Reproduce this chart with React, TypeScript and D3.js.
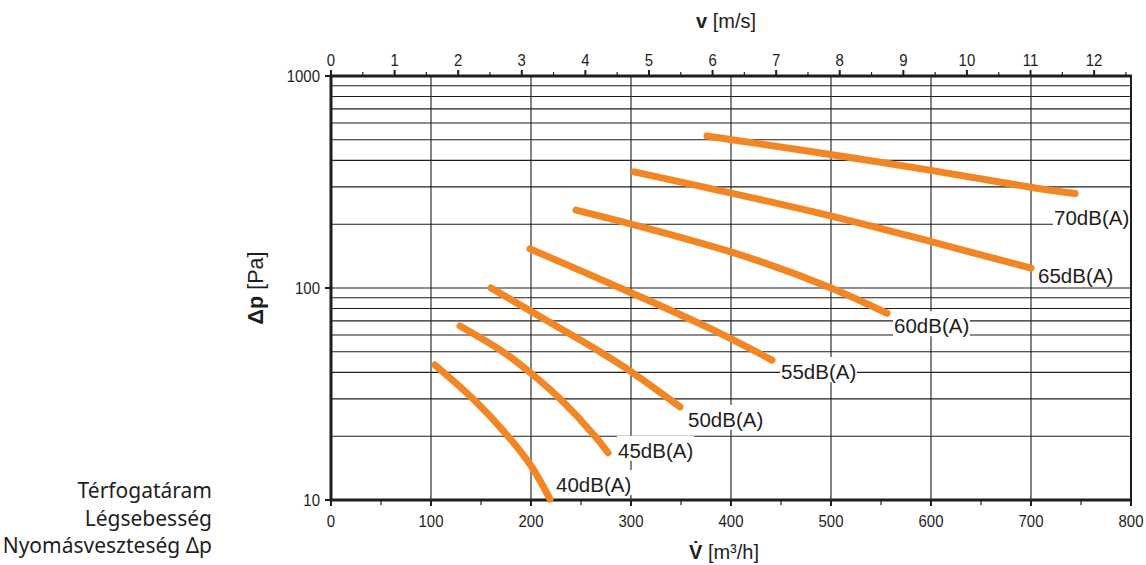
import React from "react";
import * as d3 from "d3";

// ---------- data ----------
const flowTicks = [0, 100, 200, 300, 400, 500, 600, 700, 800];
const flowMinorTicks = [50, 150, 250, 350, 450, 550, 650, 750];
const velocityTicks = [0, 1, 2, 3, 4, 5, 6, 7, 8, 9, 10, 11, 12];
const velocityMinorTicks = [0.5, 1.5, 2.5, 3.5, 4.5, 5.5, 6.5, 7.5, 8.5, 9.5, 10.5, 11.5, 12.5];
const pressureTickLabels = [10, 100, 1000];
const velocityAtMaxFlow = 12.58; // m/s at 800 m³/h

const levels = ["40dB(A)", "45dB(A)", "50dB(A)", "55dB(A)", "60dB(A)", "65dB(A)", "70dB(A)"];

const flow40 = [104, 142, 177, 200, 219];
const dp40 = [43.3, 30, 20, 14.5, 10.1];
const flow45 = [129, 172, 199, 229, 264, 277];
const dp45 = [66.2, 50, 40, 30, 20, 16.7];
const flow50 = [160, 232, 269, 301, 349];
const dp50 = [100, 63.4, 50, 40, 27.5];
const flow55 = [199, 300, 382, 441];
const dp55 = [153, 95, 63.4, 45.7];
const flow60 = [245, 320, 420, 500, 556];
const dp60 = [233, 189, 138, 100, 76];
const flow65 = [303, 489, 601, 700];
const dp65 = [353, 225, 165, 124];
const flow70 = [376, 556, 701, 744];
const dp70 = [521, 388, 298, 279];

const seriesFlows = [flow40, flow45, flow50, flow55, flow60, flow65, flow70];
const seriesDps = [dp40, dp45, dp50, dp55, dp60, dp65, dp70];

const legendLines = ["Térfogatáram", "Légsebesség", "Nyomásveszteség Δp"];

// ---------- layout (not data) ----------
const W = 1146;
const H = 565;
const plot = { left: 331, right: 1131, top: 76, bottom: 500 };
// label offsets from the end point of each curve (px)
const labelOffsets: [number, number][] = [
  [6, -7],
  [10, 5],
  [8, 20],
  [9, 19],
  [7, 20],
  [7, 15],
  [-21, 31],
];

const ORANGE = "#f28524";
const INK = "#1e1e1e";
const FONT = "'Liberation Sans', Arial, Helvetica, sans-serif";
const TICK_SCALE = 0.88;

function TickText({ x, y, anchor, children }: { x: number; y: number; anchor: string; children: any }) {
  return (
    <text
      transform={`translate(${x},${y}) scale(${TICK_SCALE},1)`}
      textAnchor={anchor}
      fontSize={17}
      fill={INK}
    >
      {children}
    </text>
  );
}

export default function App() {
  const x = d3.scaleLinear().domain([0, 800]).range([plot.left, plot.right]);
  const xTop = d3.scaleLinear().domain([0, velocityAtMaxFlow]).range([plot.left, plot.right]);
  const y = d3.scaleLog().domain([10, 1000]).range([plot.bottom, plot.top]);

  const gridY: number[] = [];
  [10, 100].forEach((dec) => {
    for (let k = 2; k <= 9; k++) gridY.push(dec * k);
  });
  gridY.push(100);

  const line = d3
    .line<[number, number]>()
    .x((d) => x(d[0]))
    .y((d) => y(d[1]))
    .curve(d3.curveCatmullRom.alpha(0.5));

  return (
    <svg
      width={W}
      height={H}
      style={{ position: "absolute", left: 0, top: 0, background: "#fff" }}
      fontFamily={FONT}
    >
      <rect x={0} y={0} width={W} height={H} fill="#fff" />

      {/* horizontal grid */}
      {gridY.map((v) => (
        <line
          key={"gy" + v}
          x1={plot.left}
          x2={plot.right}
          y1={y(v)}
          y2={y(v)}
          stroke={INK}
          strokeWidth={1.1}
        />
      ))}
      {/* vertical grid */}
      {flowTicks.slice(1, -1).map((v) => (
        <line
          key={"gx" + v}
          x1={x(v)}
          x2={x(v)}
          y1={plot.top}
          y2={plot.bottom}
          stroke={INK}
          strokeWidth={1.1}
        />
      ))}

      {/* frame */}
      <line x1={plot.right} x2={plot.right} y1={plot.top} y2={plot.bottom} stroke={INK} strokeWidth={2} />
      <line x1={plot.left - 1.5} x2={plot.right + 1} y1={plot.top} y2={plot.top} stroke={INK} strokeWidth={3} />
      <line x1={plot.left - 1.5} x2={plot.right + 1} y1={plot.bottom} y2={plot.bottom} stroke={INK} strokeWidth={3} />
      <line x1={plot.left} x2={plot.left} y1={plot.top} y2={plot.bottom} stroke={INK} strokeWidth={3} />

      {/* bottom ticks */}
      {flowTicks.map((v) => (
        <g key={"bt" + v}>
          <line x1={x(v)} x2={x(v)} y1={plot.bottom} y2={plot.bottom + 6} stroke={INK} strokeWidth={2} />
          <TickText x={x(v)} y={527} anchor="middle">
            {v}
          </TickText>
        </g>
      ))}
      {flowMinorTicks.map((v) => (
        <line key={"bm" + v} x1={x(v)} x2={x(v)} y1={plot.bottom} y2={plot.bottom + 5} stroke={INK} strokeWidth={1.2} />
      ))}

      {/* top ticks */}
      {velocityTicks.map((v) => (
        <g key={"tt" + v}>
          <line x1={xTop(v)} x2={xTop(v)} y1={plot.top} y2={plot.top - 6} stroke={INK} strokeWidth={2} />
          <TickText x={xTop(v)} y={66} anchor="middle">
            {v}
          </TickText>
        </g>
      ))}
      {velocityMinorTicks.map((v) => (
        <line key={"tm" + v} x1={xTop(v)} x2={xTop(v)} y1={plot.top} y2={plot.top - 4} stroke={INK} strokeWidth={1.2} />
      ))}

      {/* left ticks */}
      {pressureTickLabels.map((v) => (
        <g key={"lt" + v}>
          <line x1={plot.left - 6} x2={plot.left} y1={y(v)} y2={y(v)} stroke={INK} strokeWidth={2} />
          <TickText x={320} y={y(v) + 6} anchor="end">
            {v}
          </TickText>
        </g>
      ))}

      {/* axis titles */}
      <text x={726} y={28} textAnchor="middle" fontSize={20} fill={INK}>
        <tspan fontWeight="bold">v</tspan>
        <tspan> [m/s]</tspan>
      </text>
      <text x={724} y={559} textAnchor="middle" fontSize={20} fill={INK}>
        <tspan fontWeight="bold">{"V\u0307"}</tspan>
        <tspan> [m³/h]</tspan>
      </text>
      <text
        transform={`translate(263, 288) rotate(-90)`}
        textAnchor="middle"
        fontSize={21.5}
        fill={INK}
      >
        <tspan fontWeight="bold">Δp</tspan>
        <tspan> [Pa]</tspan>
      </text>

      {/* curves */}
      {seriesFlows.map((fl, i) => {
        const pts = fl.map((f, j) => [f, seriesDps[i][j]] as [number, number]);
        return (
          <path
            key={"c" + i}
            d={line(pts) || ""}
            fill="none"
            stroke={ORANGE}
            strokeWidth={7}
            strokeLinecap="round"
            strokeLinejoin="round"
          />
        );
      })}

      {/* curve labels */}
      {seriesFlows.map((fl, i) => {
        const n = fl.length - 1;
        const ex = x(fl[n]);
        const ey = y(seriesDps[i][n]);
        const lx = ex + labelOffsets[i][0];
        const ly = ey + labelOffsets[i][1];
        return (
          <g key={"l" + i}>
            <rect x={lx - 1} y={ly - 22} width={77} height={25} fill="#fff" />
            <text x={lx} y={ly} fontSize={20.5} fill={INK}>
              {levels[i]}
            </text>
          </g>
        );
      })}

      {/* legend text bottom left */}
      {legendLines.map((t, i) => (
        <text
          key={"lg" + i}
          x={212}
          y={498 + i * 27.5}
          textAnchor="end"
          fontSize={21}
          fontFamily="'Noto Sans', 'Open Sans', sans-serif"
          fill={INK}
        >
          {t}
        </text>
      ))}
    </svg>
  );
}
